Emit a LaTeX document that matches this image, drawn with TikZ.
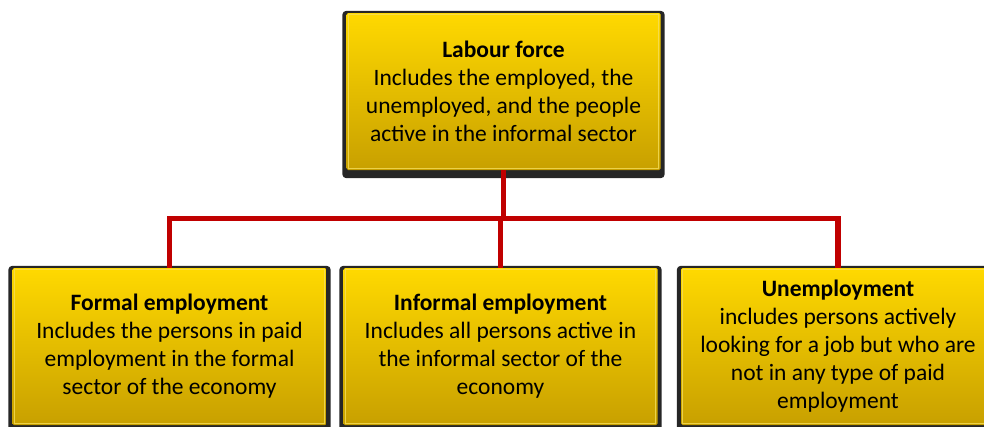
\documentclass[tikz,border=0pt]{standalone}
\usepackage{fontspec}
\setmainfont{Carlito}
\pgfdeclarelayer{background}
\pgfsetlayers{background,main}
\definecolor{facetop}{RGB}{255,217,0}
\definecolor{facebot}{RGB}{200,160,0}
\definecolor{rim}{RGB}{245,222,90}
\definecolor{linkred}{RGB}{192,0,0}
\tikzset{
  card/.style={rectangle, rounded corners=1.5pt, top color=facetop, bottom color=facebot,
    minimum width=314pt, minimum height=157pt, inner sep=0pt, align=center,
    font=\fontsize{23.5}{28}\selectfont, text=black},
  link/.style={draw=linkred, line width=5.5pt},
}
\newcommand{\cardframe}[1]{%
  \begin{pgfonlayer}{background}
    \fill[black!85, rounded corners=4pt]
      ([xshift=-4pt,yshift=2pt]#1.north west) rectangle ([xshift=4pt,yshift=-8pt]#1.south east);
  \end{pgfonlayer}
  \draw[rim, line width=0.9pt, opacity=0.8]
    ([xshift=2pt,yshift=-2pt]#1.north west) rectangle ([xshift=-2pt,yshift=2pt]#1.south east);
}
\begin{document}
\begin{tikzpicture}[x=1pt,y=-1pt]
  \useasboundingbox (0,0) rectangle (984,426);
  \clip (0,0) rectangle (984,426);

  \node[card] (force) at (503.5,91.5)
    {\textbf{Labour force}\\Includes the employed, the\\unemployed, and the people\\active in the informal sector};
  \node[card] (formal) at (169.5,346.5)
    {\textbf{Formal employment}\\Includes the persons in paid\\employment in the formal\\sector of the economy};
  \node[card] (informal) at (500.5,346.5)
    {\textbf{Informal employment}\\Includes all persons active in\\the informal sector of the\\economy};
  \node[card] (unemp) at (838,346.5)
    {\textbf{Unemployment}\\includes persons actively\\looking for a job but who are\\not in any type of paid\\employment};

  \cardframe{force}
  \cardframe{formal}
  \cardframe{informal}
  \cardframe{unemp}

  % tree connectors
  \coordinate (bus) at (503.5,218.5);
  \draw[link] (force.south) -- (bus);
  \draw[link] (formal.north) -- (formal.north |- bus) -- (unemp.north |- bus) -- (unemp.north);
  \draw[link] (informal.north |- bus) -- (informal.north);
\end{tikzpicture}
\end{document}
